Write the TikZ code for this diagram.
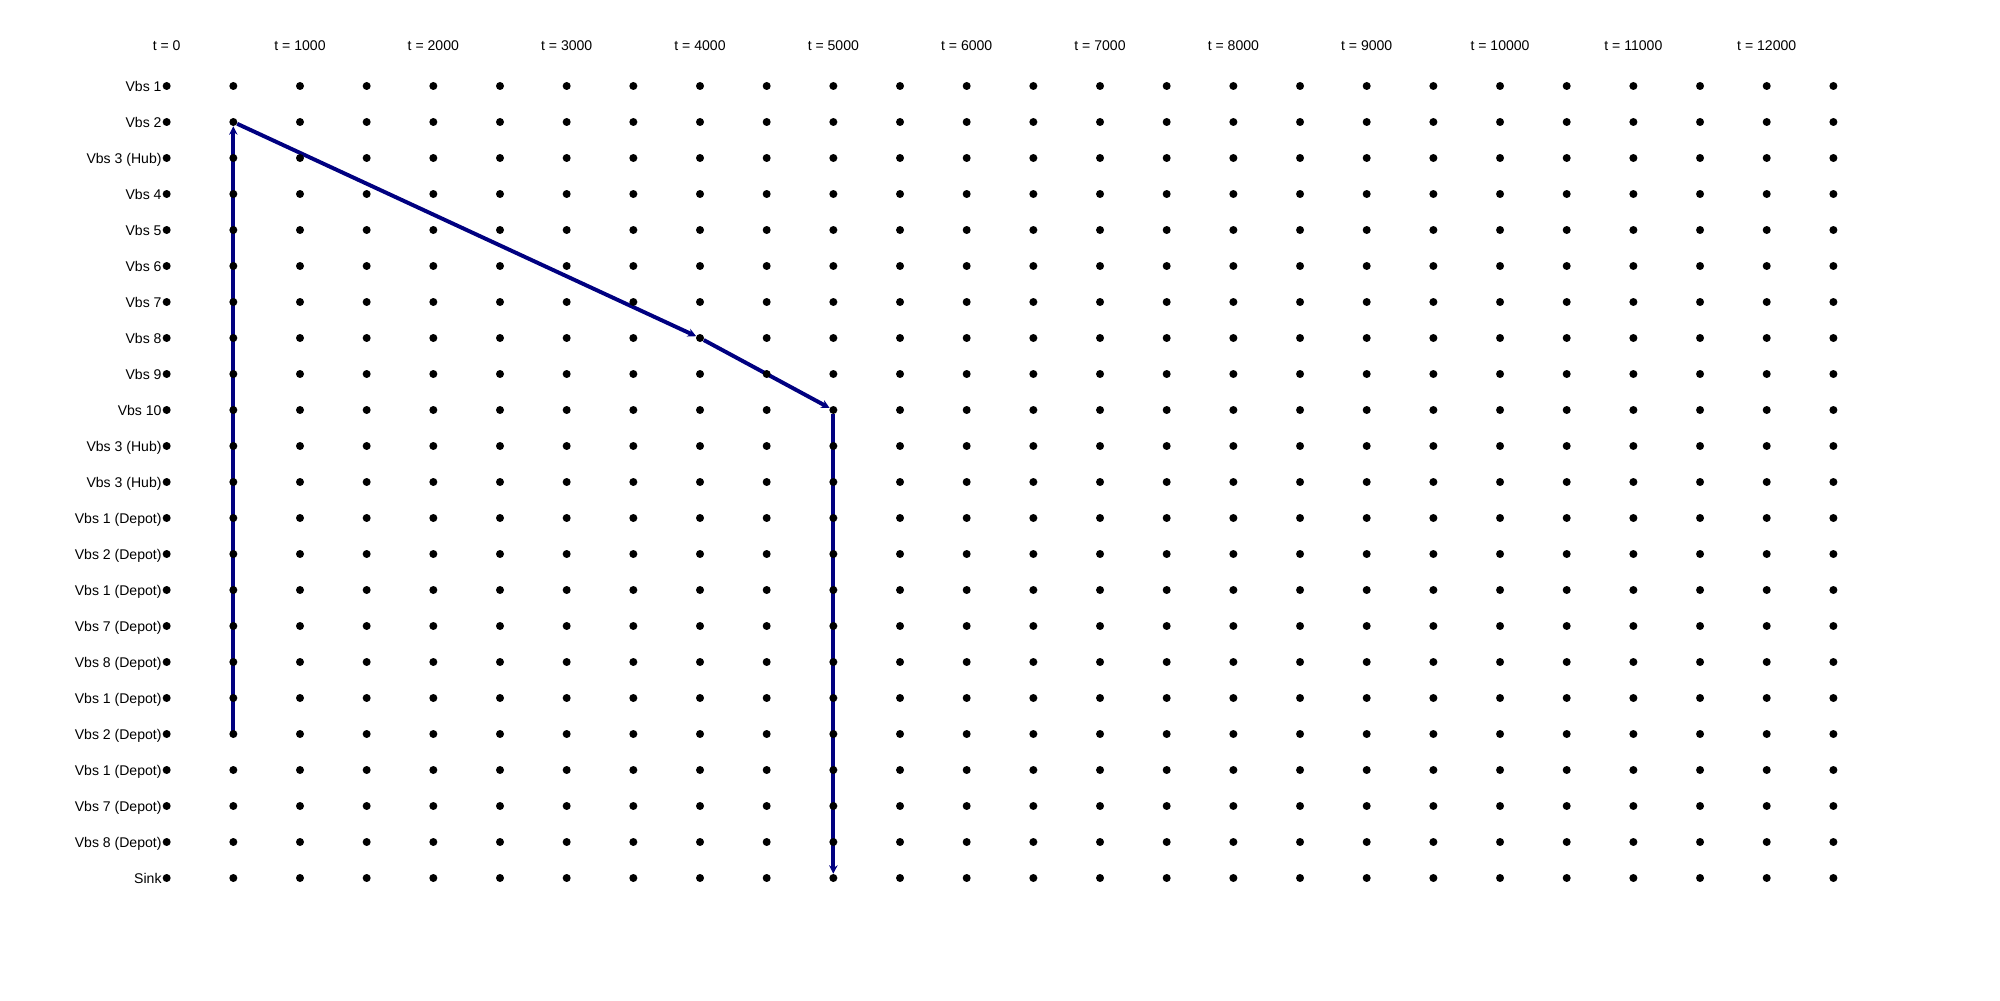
\documentclass[tikz,border=0pt]{standalone}
\usepackage{fontspec}
\setmainfont{Liberation Sans}
\usetikzlibrary{arrows.meta,backgrounds}
\definecolor{routeblue}{HTML}{000080}

\tikzset{
  slot/.style={circle, fill=black, inner sep=0pt, minimum size=0.2cm},
  rowlabel/.style={anchor=base east, inner sep=0.4pt, yshift=-0.36em, font=\fontsize{10}{12}\selectfont},
  timelabel/.style={font=\fontsize{10}{12}\selectfont},
  route/.style={draw=routeblue, line width=2.8pt, -{Stealth[length=6pt,width=6pt]}}
}

\begin{document}
\begin{tikzpicture}[x=1.6667cm, y=0.9cm]
  \useasboundingbox (0cm,0cm) rectangle (50cm,-25cm);
  \begin{scope}[shift={(4.1667cm,-2.15cm)}]
    % time axis
    \foreach \k in {0,...,12}
      \node[timelabel] (t\k) at ({2*\k},1.111) {t = \number\numexpr\k*1000\relax};
    % grid of slots
    \foreach \lbl [count=\r from 0] in {Vbs 1, Vbs 2, {Vbs 3 (Hub)}, Vbs 4, Vbs 5,
        Vbs 6, Vbs 7, Vbs 8, Vbs 9, Vbs 10, {Vbs 3 (Hub)}, {Vbs 3 (Hub)},
        {Vbs 1 (Depot)}, {Vbs 2 (Depot)}, {Vbs 1 (Depot)}, {Vbs 7 (Depot)},
        {Vbs 8 (Depot)}, {Vbs 1 (Depot)}, {Vbs 2 (Depot)}, {Vbs 1 (Depot)},
        {Vbs 7 (Depot)}, {Vbs 8 (Depot)}, Sink} {
      \foreach \c in {0,...,25}
        \node[slot] (d-\c-\r) at (\c,-\r) {};
      \node[rowlabel] (l-\r) at (d-0-\r.west) {\lbl};
    }
    % vessel route
    \begin{scope}[on background layer]
      \draw[route] (d-1-18.center) -- (d-1-1);
      \draw[route] (d-1-1) -- (d-8-7);
      \draw[route] (d-8-7) -- (d-10-9);
      \draw[route] (d-10-9) -- (d-10-22);
    \end{scope}
  \end{scope}
\end{tikzpicture}
\end{document}
